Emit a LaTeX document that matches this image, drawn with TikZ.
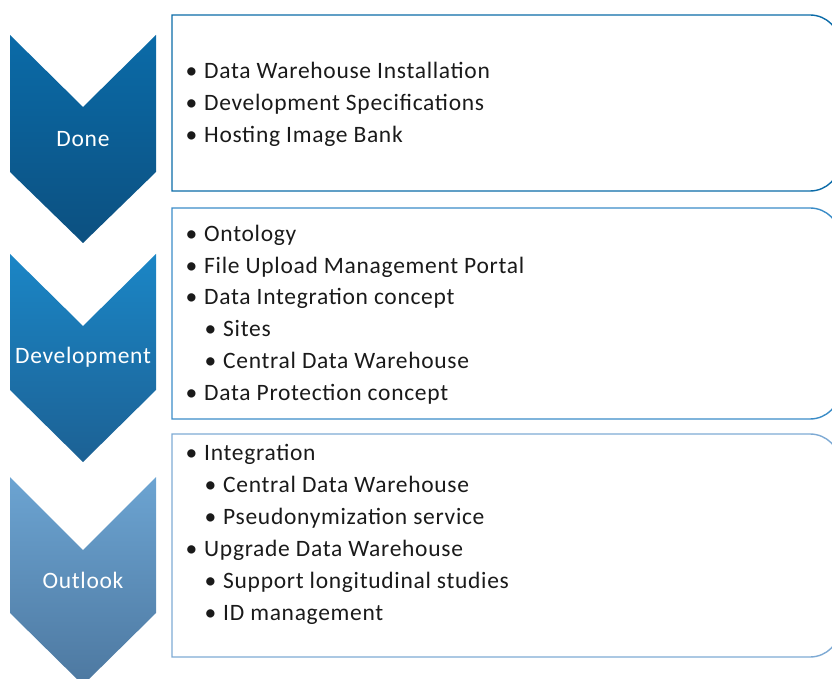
\documentclass[tikz,border=0pt]{standalone}
\usepackage{fontspec}
\setmainfont[LetterSpace=3]{Carlito}
\definecolor{cA}{HTML}{0B6BA8}
\definecolor{cAb}{HTML}{0C5080}
\definecolor{cB}{HTML}{1B86C6}
\definecolor{cBb}{HTML}{1C6194}
\definecolor{cC}{HTML}{6CA4D2}
\definecolor{cCb}{HTML}{4D78A0}
\definecolor{lA}{HTML}{0B6BA8}
\definecolor{lB}{HTML}{3A8CC7}
\definecolor{lC}{HTML}{7EAAD4}
\definecolor{txt}{HTML}{1A1A1A}
\begin{document}
\begin{tikzpicture}[x=1pt,y=1pt,
  item/.style={anchor=base west,inner sep=0pt,text=txt,font=\fontsize{23.5}{28}\selectfont},
  lab/.style={inner sep=0pt,text=white,font=\fontsize{23.5}{28}\selectfont},
  boxline/.style={line width=1.4pt}]
\useasboundingbox (0,0) rectangle (832,678);
\clip (0,0) rectangle (832,678);
% chevrons
\shade[top color=cA,bottom color=cAb] (10,643) -- (83,571) -- (156,643) -- (156,506) -- (83,435) -- (10,506) -- cycle;
\shade[top color=cB,bottom color=cBb] (10,424) -- (83,352) -- (156,424) -- (156,288) -- (83,216) -- (10,288) -- cycle;
\shade[top color=cC,bottom color=cCb] (10,201) -- (83,128) -- (156,201) -- (156,65) -- (83,-7) -- (10,65) -- cycle;
\node[lab] (done) at (83,539) {Done};
\node[lab] (dev) at (83,321) {Development};
\node[lab] (out) at (83,98) {Outlook};
% boxes
\draw[boxline,draw=lA] (172,487) -- (172,663) -- (810,663) arc[start angle=90,end angle=0,radius=30] -- (840,517) arc[start angle=0,end angle=-90,radius=30] -- cycle;
\draw[boxline,draw=lB] (172,259) -- (172,470) -- (810,470) arc[start angle=90,end angle=0,radius=30] -- (840,289) arc[start angle=0,end angle=-90,radius=30] -- cycle;
\draw[boxline,draw=lC] (172,21) -- (172,244) -- (810,244) arc[start angle=90,end angle=0,radius=30] -- (840,51) arc[start angle=0,end angle=-90,radius=30] -- cycle;
% texts
\newcommand{\bl}{\makebox[18.5pt][l]{•}}
\node[item] (a1) at (185.5,599) {\bl Data Warehouse Installation};
\node[item] (a2) at (185.5,567) {\bl Development Specifications};
\node[item] (a3) at (185.5,535) {\bl Hosting Image Bank};
\node[item] (b1) at (185.5,436) {\bl Ontology};
\node[item] (b2) at (185.5,404) {\bl File Upload Management Portal};
\node[item] (b3) at (185.5,373) {\bl Data Integration concept};
\node[item] (b4) at (204.5,341) {\bl Sites};
\node[item] (b5) at (204.5,309) {\bl Central Data Warehouse};
\node[item] (b6) at (185.5,278) {\bl Data Protection concept};
\node[item] (c1) at (185.5,218) {\bl Integration};
\node[item] (c2) at (204.5,186) {\bl Central Data Warehouse};
\node[item] (c3) at (204.5,154) {\bl Pseudonymization service};
\node[item] (c4) at (185.5,122) {\bl Upgrade Data Warehouse};
\node[item] (c5) at (204.5,90) {\bl Support longitudinal studies};
\node[item] (c6) at (204.5,58) {\bl ID management};
\end{tikzpicture}
\end{document}
